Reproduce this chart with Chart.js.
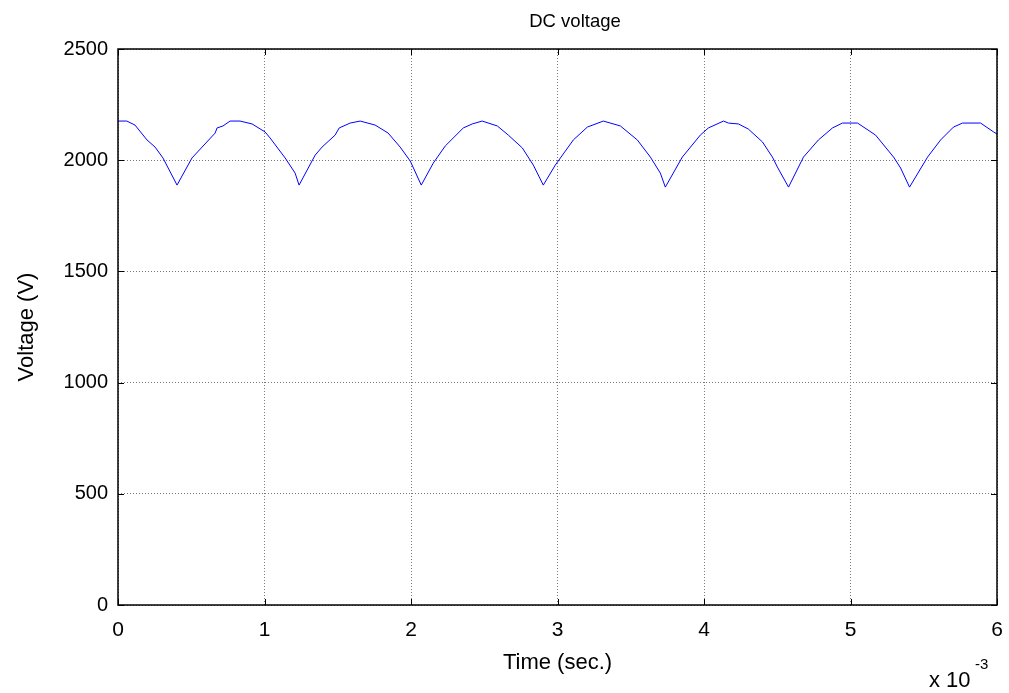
<!DOCTYPE html>
<html lang="en">
  <head>
    <meta charset="UTF-8" />
    <title>DC voltage</title>
    <script src="https://cdn.jsdelivr.net/npm/chart.js@4"></script>
    <style>
      html, body { margin: 0; padding: 0; background: #fff; }
      #wrap { width: 1009px; height: 693px; }
    </style>
  </head>
  <body>
    <div id="wrap"><canvas id="chart"></canvas></div>
    <script>
      // time in ms (axis is scaled x 10^-3), voltage in V
      const timeMs = [
        0, 0.06, 0.116, 0.198, 0.253, 0.307, 0.403, 0.505, 0.574, 0.663, 0.676,
        0.717, 0.765, 0.833, 0.915, 1.004, 1.038, 1.141, 1.209, 1.236, 1.346,
        1.393, 1.482, 1.51, 1.585, 1.653, 1.755, 1.844, 1.926, 1.995, 2.07,
        2.152, 2.234, 2.357, 2.418, 2.486, 2.589, 2.664, 2.76, 2.835, 2.903,
        2.985, 3.108, 3.204, 3.313, 3.429, 3.545, 3.634, 3.702, 3.736, 3.852,
        3.975, 4.03, 4.133, 4.167, 4.235, 4.303, 4.399, 4.467, 4.501, 4.577,
        4.679, 4.781, 4.877, 4.945, 5.048, 5.171, 5.294, 5.342, 5.403, 5.526,
        5.615, 5.703, 5.765, 5.888, 5.977, 6.0
      ];
      const voltage = [
        2176, 2176, 2158, 2091, 2059, 2010, 1888, 2010, 2059, 2122, 2145,
        2154, 2176, 2176, 2163, 2127, 2100, 2010, 1942, 1888, 2023,
        2059, 2113, 2145, 2167, 2176, 2158, 2122, 2059, 1996, 1888,
        1987, 2064, 2145, 2163, 2176, 2154, 2113, 2055, 1978, 1888,
        1978, 2091, 2149, 2176, 2154, 2091, 2014, 1942, 1879, 2014,
        2113, 2145, 2176, 2167, 2163, 2140, 2082, 2014, 1969, 1879,
        2014, 2091, 2145, 2167, 2167, 2113, 2014, 1965, 1879, 2014,
        2091, 2149, 2167, 2167, 2127, 2118
      ];
      const xTicks = [0, 1, 2, 3, 4, 5, 6];
      const yTicks = [0, 500, 1000, 1500, 2000, 2500];

      const FONT = "'Liberation Sans', Arial, sans-serif";

      // matlab-like box, inward ticks, titles and exponent label
      const matlabFrame = {
        id: "matlabFrame",
        afterDraw(chart) {
          const { ctx, chartArea: a, scales } = chart;
          ctx.save();
          ctx.strokeStyle = "#000";
          ctx.lineWidth = 1;
          ctx.beginPath();
          for (const v of xTicks) {
            const px = Math.round(scales.x.getPixelForValue(v)) + 0.5;
            ctx.moveTo(px, a.bottom);
            ctx.lineTo(px, a.bottom - 6);
            ctx.moveTo(px, a.top);
            ctx.lineTo(px, a.top + 6);
          }
          for (const v of yTicks) {
            const py = Math.round(scales.y.getPixelForValue(v)) + 0.5;
            ctx.moveTo(a.left, py);
            ctx.lineTo(a.left + 6, py);
            ctx.moveTo(a.right, py);
            ctx.lineTo(a.right - 6, py);
          }
          ctx.stroke();
          ctx.lineWidth = 1.5;
          ctx.strokeRect(a.left, a.top, a.right - a.left, a.bottom - a.top);

          ctx.fillStyle = "#000";
          ctx.textAlign = "center";
          ctx.textBaseline = "middle";
          ctx.font = "18.5px " + FONT;
          ctx.fillText("DC voltage", 575, 22);

          ctx.font = "22px " + FONT;
          ctx.fillText("Time (sec.)", (a.left + a.right) / 2, 663);
          ctx.save();
          ctx.translate(27, 327);
          ctx.rotate(-Math.PI / 2);
          ctx.fillText("Voltage (V)", 0, 0);
          ctx.restore();

          ctx.textAlign = "left";
          ctx.textBaseline = "alphabetic";
          ctx.font = "22px " + FONT;
          ctx.fillText("x 10", 929, 687);
          ctx.font = "15px " + FONT;
          ctx.fillText("-3", 975, 669);
          ctx.restore();
        },
      };

      new Chart(document.getElementById("chart"), {
        type: "line",
        data: {
          datasets: [
            {
              data: timeMs.map((t, i) => ({ x: t, y: voltage[i] })),
              borderColor: "#0000ff",
              borderWidth: 1,
              pointRadius: 0,
              tension: 0,
              fill: false,
            },
          ],
        },
        options: {
          responsive: true,
          maintainAspectRatio: false,
          animation: false,
          layout: { padding: { top: 49, right: 12, left: 0, bottom: 0 } },
          plugins: { legend: { display: false }, tooltip: { enabled: false } },
          scales: {
            x: {
              type: "linear",
              min: 0,
              max: 6,
              afterBuildTicks: (s) => { s.ticks = xTicks.map((v) => ({ value: v })); },
              afterFit: (s) => {
                s.height = 88;
                s.paddingLeft = 0;
                s.paddingRight = 0;
              },
              grid: { color: "#7a7a7a", lineWidth: 1, drawTicks: false },
              border: { display: false, dash: [1, 2] },
              ticks: {
                color: "#000",
                font: { family: FONT, size: 21 },
                padding: 13,
                maxRotation: 0,
                callback: (v) => String(v),
              },
            },
            y: {
              min: 0,
              max: 2500,
              afterBuildTicks: (s) => { s.ticks = yTicks.map((v) => ({ value: v })); },
              afterFit: (s) => {
                s.width = 118;
                s.paddingTop = 0;
                s.paddingBottom = 0;
              },
              grid: { color: "#7a7a7a", lineWidth: 1, drawTicks: false },
              border: { display: false, dash: [1, 2] },
              ticks: {
                color: "#000",
                font: { family: FONT, size: 20 },
                padding: 10,
                callback: (v) => String(v),
              },
            },
          },
        },
        plugins: [matlabFrame],
      });
    </script>
  </body>
</html>
